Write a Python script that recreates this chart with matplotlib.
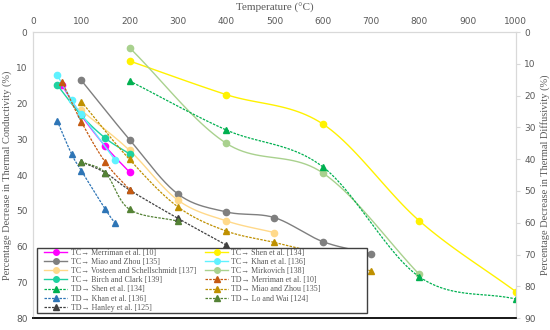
import matplotlib
matplotlib.use('Agg')
import matplotlib.pyplot as plt
from matplotlib.lines import Line2D
from matplotlib.patches import Rectangle
import numpy as np

# thermal conductivity (left axis)
tc_merriman_t = [60, 100, 150, 200]
tc_merriman_v = [14.9, 23.3, 32.0, 39.2]
tc_miao_t = [100, 200, 300, 400, 500, 600, 700]
tc_miao_v = [13.5, 30.1, 45.3, 50.3, 51.9, 58.6, 62.0]
tc_vosteen_t = [100, 200, 300, 400, 500]
tc_vosteen_v = [21.9, 33.1, 47.0, 52.8, 56.1]
tc_birch_t = [50, 100, 150, 200]
tc_birch_v = [14.8, 23.3, 29.7, 34.1]
tc_shen_t = [200, 400, 600, 800, 1000]
tc_shen_v = [8.1, 17.5, 25.7, 52.8, 72.6]
tc_khan_t = [50, 80, 100, 170]
tc_khan_v = [12.0, 19.1, 23.0, 35.8]
tc_mirkovich_t = [200, 400, 600, 800]
tc_mirkovich_v = [4.4, 31.1, 39.4, 67.8]

# thermal diffusivity (right axis)
td_shen_t = [200, 400, 600, 800, 1000]
td_shen_v = [15.4, 30.8, 42.4, 77.0, 84.0]
td_khan_t = [50, 80, 100, 150, 170]
td_khan_v = [27.9, 38.4, 43.6, 55.8, 60.2]
td_hanley_t = [100, 150, 200, 300, 400]
td_hanley_v = [40.8, 44.3, 49.7, 58.6, 67.0]
td_merriman_t = [60, 100, 150, 200]
td_merriman_v = [15.6, 28.2, 41.0, 49.6]
td_miao_t = [100, 200, 300, 400, 500, 600, 700]
td_miao_v = [21.9, 40.1, 55.0, 62.6, 66.2, 70.0, 75.2]
td_lo_t = [100, 150, 200, 300]
td_lo_v = [40.8, 44.3, 55.8, 59.5]


def smooth(x, y, n=24):
    # catmull-rom curve through the points, like excel "smoothed line"
    x = np.asarray(x, float)
    y = np.asarray(y, float)
    if len(x) < 3:
        return x, y
    px = np.concatenate([[2 * x[0] - x[1]], x, [2 * x[-1] - x[-2]]])
    py = np.concatenate([[2 * y[0] - y[1]], y, [2 * y[-1] - y[-2]]])
    xs, ys = [], []
    t = np.linspace(0, 1, n)
    for i in range(1, len(px) - 2):
        for p, out in ((px, xs), (py, ys)):
            p0, p1, p2, p3 = p[i - 1], p[i], p[i + 1], p[i + 2]
            out.extend(0.5 * ((2 * p1) + (-p0 + p2) * t
                              + (2 * p0 - 5 * p1 + 4 * p2 - p3) * t ** 2
                              + (-p0 + 3 * p1 - 3 * p2 + p3) * t ** 3))
    return np.array(xs), np.array(ys)


tc_series = [
    ('TC\u2192 Merriman et al. [10]', tc_merriman_t, tc_merriman_v, '#FF00FF'),
    ('TC\u2192 Miao and Zhou [135]', tc_miao_t, tc_miao_v, '#7F7F7F'),
    ('TC\u2192 Vosteen and Schellschmidt [137]', tc_vosteen_t, tc_vosteen_v, '#FFD98A'),
    ('TC\u2192 Birch and Clark [139]', tc_birch_t, tc_birch_v, '#1ED2A0'),
    ('TC\u2192 Shen et al. [134]', tc_shen_t, tc_shen_v, '#FFF200'),
    ('TC\u2192 Khan et al. [136]', tc_khan_t, tc_khan_v, '#5FF2FF'),
    ('TC\u2192 Mirkovich [138]', tc_mirkovich_t, tc_mirkovich_v, '#A9D18E'),
]
td_series = [
    ('TD\u2192 Shen et al. [134]', td_shen_t, td_shen_v, '#00B050'),
    ('TD\u2192 Khan et al. [136]', td_khan_t, td_khan_v, '#2E75B6'),
    ('TD\u2192 Hanley et al. [125]', td_hanley_t, td_hanley_v, '#404040'),
    ('TD\u2192 Merriman et al. [10]', td_merriman_t, td_merriman_v, '#C55A11'),
    ('TD\u2192 Miao and Zhou [135]', td_miao_t, td_miao_v, '#BF9000'),
    ('TD\u2192 Lo and Wai [124]', td_lo_t, td_lo_v, '#548235'),
]

fig = plt.figure(figsize=(5.5, 3.3), dpi=100)
ax = fig.add_axes([0.06, 0.036, 0.878, 0.867])
ax2 = ax.twinx()

handles = {}
for name, t, v, c in tc_series:
    sx, sy = smooth(t, v)
    ax.plot(sx, sy, color=c, lw=1.0)
    ax.plot(t, v, 'o', color=c, ms=4.5, mec=c)
    handles[name] = Line2D([], [], color=c, lw=1.0, marker='o', ms=4)
for name, t, v, c in td_series:
    sx, sy = smooth(t, v)
    ax2.plot(sx, sy, color=c, lw=0.9, dashes=(2, 1))
    ax2.plot(t, v, '^', color=c, ms=4.5, mec=c)
    handles[name] = Line2D([], [], color=c, lw=0.9, dashes=(2, 1), marker='^', ms=4)

ax.set_xlim(0, 1000)
ax.set_ylim(80, 0)
ax2.set_ylim(90, 0)
ax.set_xticks(np.arange(0, 1001, 100))
ax.set_yticks(np.arange(0, 81, 10))
ax2.set_yticks(np.arange(0, 91, 10))
ax.xaxis.tick_top()
ax.xaxis.set_label_position('top')

gray = '#595959'
for a in (ax, ax2):
    for s in ('top', 'left', 'right'):
        a.spines[s].set_color('#D9D9D9')
        a.spines[s].set_linewidth(0.8)
    a.spines['bottom'].set_color('#1a1a1a')
    a.spines['bottom'].set_linewidth(1.3)
ax.tick_params(axis='x', length=0, labelsize=6.5, labelcolor=gray, pad=4)
ax.tick_params(axis='y', length=0, labelsize=6.5, labelcolor=gray, pad=4)
ax2.tick_params(axis='y', length=3, color='#D9D9D9', labelsize=6.5, labelcolor=gray, pad=3)

serif = 'Liberation Serif'
ax.set_xlabel('Temperature (\u00b0C)', fontsize=8, color=gray, family=serif, labelpad=5)
ax.set_ylabel('Percentage Decrease in Thermal Conductivity (%)', fontsize=7.5, color=gray,
              family=serif, labelpad=3)
ax2.set_ylabel('Percentage Decrease in Thermal Diffusivity (%)', fontsize=7.5, color=gray,
               family=serif, labelpad=3, rotation=90)

# legend box (drawn separately, wider than its entries like the original)
box = Rectangle((37 / 550, 1 - 313 / 330), 330 / 550, 65 / 330, transform=fig.transFigure,
                facecolor='white', edgecolor='#404040', lw=1.0, zorder=5)
fig.patches.append(box)

order = [s[0] for s in tc_series[:4]] + [s[0] for s in td_series[:3]] + \
        [s[0] for s in tc_series[4:]] + [s[0] for s in td_series[3:]]
leg = fig.legend([handles[k] for k in order], order, ncol=2, loc='upper left',
                 bbox_to_anchor=(44 / 550, 1 - 248.5 / 330), prop={'family': serif, 'size': 5.8},
                 frameon=False, labelspacing=0.15, handlelength=2.9, handletextpad=0.4,
                 columnspacing=1.1, borderpad=0, borderaxespad=0)
leg.set_zorder(6)
for txt in leg.get_texts():
    txt.set_color(gray)

fig.savefig('out.png', dpi=100)
